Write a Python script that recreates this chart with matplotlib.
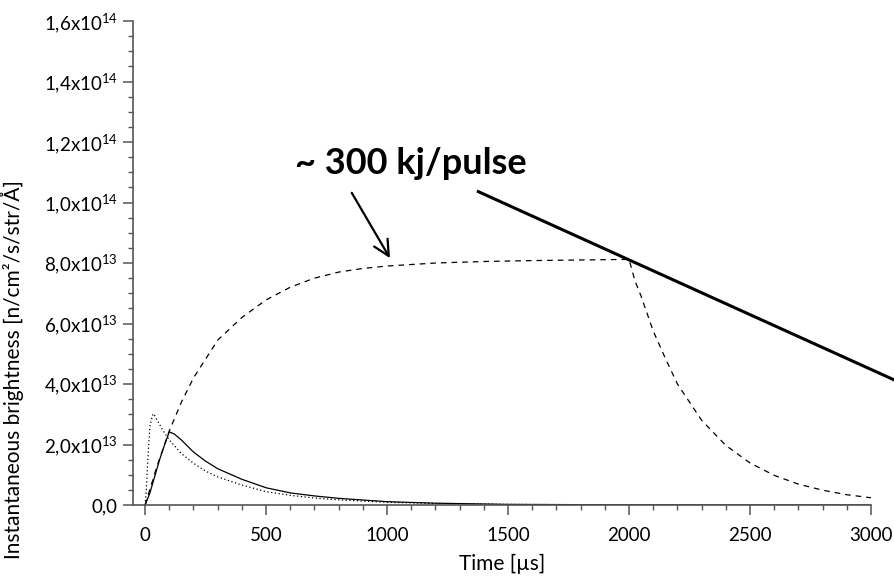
import matplotlib
matplotlib.use("Agg")
import matplotlib.pyplot as plt
from matplotlib.ticker import MultipleLocator, FuncFormatter

plt.rcParams['font.family'] = ['Lato', 'DejaVu Sans']
plt.rcParams['mathtext.fontset'] = 'custom'
plt.rcParams['mathtext.rm'] = 'Lato'

# solid curve
t_solid = [0, 20, 40, 60, 80, 100, 120, 150, 200, 250, 300, 400, 500, 600, 700,
           800, 1000, 1200, 1500, 2000, 2500, 3000]
v_solid = [0, 0.4, 0.95, 1.5, 1.98, 2.42, 2.35, 2.15, 1.75, 1.45, 1.2, 0.85, 0.57,
           0.4, 0.3, 0.22, 0.11, 0.06, 0.02, 0.005, 0, 0]

# dotted curve
t_dot = [0, 5, 10, 15, 20, 30, 35, 50, 75, 100, 150, 200, 250, 300, 400, 500, 600,
         700, 800, 1000, 1200, 1500, 2000, 3000]
v_dot = [0, 0.5, 1.3, 2.0, 2.6, 2.95, 3.02, 2.8, 2.45, 2.15, 1.7, 1.38, 1.12, 0.93,
         0.66, 0.44, 0.32, 0.23, 0.17, 0.09, 0.05, 0.02, 0.005, 0]

# dashed curve (long pulse)
t_dash = [0, 50, 100, 150, 200, 300, 400, 500, 600, 700, 800, 900, 1000, 1200, 1400,
          1600, 1800, 2000, 2025, 2050, 2100, 2150, 2200, 2300, 2400, 2500, 2600,
          2700, 2800, 2900, 3000]
v_dash = [0, 1.3, 2.45, 3.4, 4.2, 5.45, 6.2, 6.78, 7.2, 7.5, 7.7, 7.82, 7.9, 8.0, 8.05,
          8.08, 8.1, 8.12, 7.4, 6.9, 5.75, 4.85, 4.0, 2.8, 1.97, 1.39, 0.98, 0.69,
          0.49, 0.34, 0.24]

scale = 1e13

# annotation
label_text = "~ 300 kj/pulse"
label_pos = (1100, 11.3)
arrow_from = (854, 10.32)
arrow_to = (1012, 8.16)
line_x = [1377, 3100]
line_y = [10.36, 4.12]

fig = plt.figure(figsize=(8.95, 5.79), dpi=100)
ax = fig.add_axes([0.1486, 0.1278, 0.8246, 0.8359])

ax.plot(t_dash, [v * scale for v in v_dash], color='black', lw=0.9, ls=(0, (4.5, 4)))
ax.plot(t_dot, [v * scale for v in v_dot], color='black', lw=0.9, ls=(0, (1, 2)))
ax.plot(t_solid, [v * scale for v in v_solid], color='black', lw=0.9)

ax.plot(line_x, [v * scale for v in line_y], color='black', lw=2.2, clip_on=False)
ax.annotate("", xy=(arrow_to[0], arrow_to[1] * scale),
            xytext=(arrow_from[0], arrow_from[1] * scale),
            arrowprops=dict(arrowstyle='->', lw=1.6, color='black',
                            mutation_scale=28, shrinkA=0, shrinkB=0))
ax.text(label_pos[0], label_pos[1] * scale, label_text, fontsize=26,
        fontweight='bold', ha='center', va='center')

ax.set_xlim(-50, 3000)
ax.set_ylim(0, 1.6e14)
ax.spines['top'].set_visible(False)
ax.spines['right'].set_visible(False)
for s in ['left', 'bottom']:
    ax.spines[s].set_color('#555555')
    ax.spines[s].set_linewidth(1.2)

ax.xaxis.set_major_locator(MultipleLocator(500))
ax.xaxis.set_minor_locator(MultipleLocator(100))
ax.yaxis.set_major_locator(MultipleLocator(2e13))
ax.yaxis.set_minor_locator(MultipleLocator(0.5e13))


def yfmt(v, pos):
    if v == 0:
        return "0,0"
    exp = 13 if v < 1e14 - 1 else 14
    mant = v / 10 ** exp
    return ("%.1f" % mant).replace('.', ',') + "x10$^{%d}$" % exp


ax.yaxis.set_major_formatter(FuncFormatter(yfmt))
ax.tick_params(which='major', length=7, width=1.1, color='#555555', labelsize=13.5)
ax.tick_params(which='minor', length=3.5, width=1, color='#555555')
ax.tick_params(axis='x', which='major', pad=9)
ax.tick_params(axis='y', which='major', pad=4)

ax.set_xlabel("Time [µs]", fontsize=15, labelpad=7)
ax.set_ylabel("Instantaneous brightness [n/cm²/s/str/Å]", fontsize=15)
ax.yaxis.set_label_coords(-0.148, 0.28)

fig.savefig("out.png", dpi=100)
